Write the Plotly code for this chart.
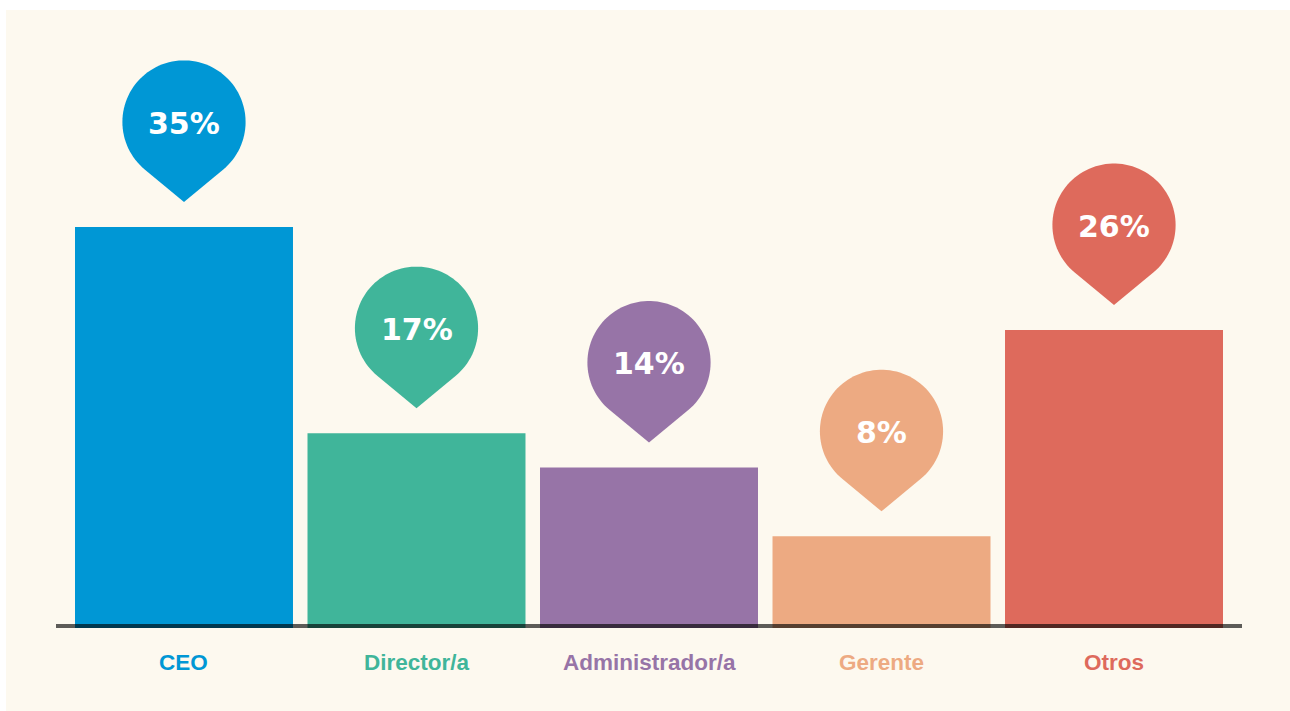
import numpy as np
import plotly.graph_objects as go

categories = ["CEO", "Director/a", "Administrador/a", "Gerente", "Otros"]
values = [35, 17, 14, 8, 26]
labels = ["35%", "17%", "14%", "8%", "26%"]
colors = ["#0097D5", "#40B59A", "#9774A7", "#EDAA82", "#DE6A5C"]

cream = "#FDF9EF"


def pin_path(gap=25, drop=80, r=61.6):
    # map-pin: circle plus two tangent lines to the tip; pixels, y up, tip at (0, gap)
    g = np.arccos(r / drop)
    a0 = -np.pi / 2 + g
    a1 = 3 * np.pi / 2 - g
    pts = [(0.0, 0.0)]
    for t in np.linspace(a0, a1, 90):
        pts.append((r * np.cos(t), drop + r * np.sin(t)))
    return "M " + " L ".join(f"{x:.2f},{y + gap:.2f}" for x, y in pts) + " Z"


x = list(range(len(categories)))

fig = go.Figure()
fig.add_trace(go.Bar(x=x, y=values, marker=dict(color=colors, line=dict(width=0)),
                     hoverinfo="skip"))

shapes = []
# cream card behind everything
shapes.append(dict(type="rect", xref="paper", yref="paper",
                   x0=-0.0422, x1=1.041, y0=-0.135, y1=1.0,
                   fillcolor=cream, line=dict(width=0), layer="below"))
# base line
shapes.append(dict(type="line", xref="paper", yref="y", x0=0, x1=1, y0=0, y1=0,
                   line=dict(color="rgba(0,0,0,0.63)", width=8), layer="above"))

path = pin_path()
for i, v in enumerate(values):
    shapes.append(dict(type="path", xref="x", yref="y",
                       xsizemode="pixel", ysizemode="pixel",
                       xanchor=i, yanchor=v, path=path,
                       fillcolor=colors[i], line=dict(width=0), layer="above"))

annotations = []
for i, v in enumerate(values):
    annotations.append(dict(x=i, y=v, xref="x", yref="y", text=labels[i],
                            showarrow=False, yshift=104, xanchor="center", yanchor="middle",
                            font=dict(family="DejaVu Sans", size=30, color="white", weight="bold")))
    annotations.append(dict(x=i, y=0, xref="x", yref="y", text=categories[i],
                            showarrow=False, yshift=-34, xanchor="center", yanchor="middle",
                            font=dict(family="Liberation Sans", size=22.5, color=colors[i], weight="bold")))

fig.update_layout(
    width=1290, height=711,
    margin=dict(l=56, r=48, t=10, b=83),
    paper_bgcolor="white", plot_bgcolor=cream,
    showlegend=False, bargap=0.0624,
    shapes=shapes, annotations=annotations,
    xaxis=dict(range=[-0.5505, 4.5505], showgrid=False, zeroline=False,
               showticklabels=False, ticks=""),
    yaxis=dict(range=[0, 53.94], showgrid=False, zeroline=False,
               showticklabels=False, ticks=""),
)

fig.write_html("out.html", config={"displayModeBar": False},
               post_script="document.body.style.margin='0';")
